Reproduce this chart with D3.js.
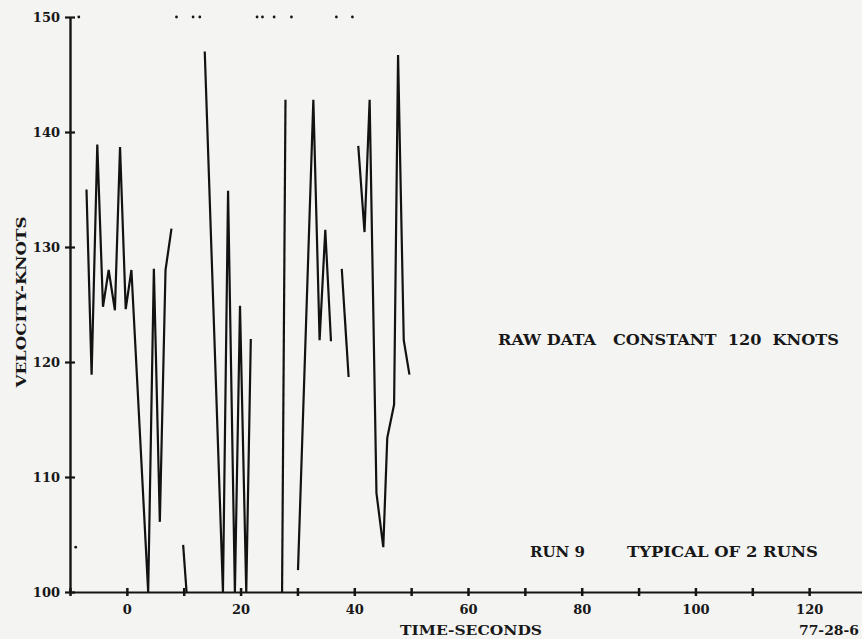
<!DOCTYPE html>
<html>
<head>
<meta charset="utf-8">
<script src="https://cdn.jsdelivr.net/npm/d3@7"></script>
<style>
  html, body { margin: 0; padding: 0; background: #f4f4f3; }
  svg { display: block; }
  text { font-family: "DejaVu Serif", "Liberation Serif", serif; font-weight: bold; fill: #181818; white-space: pre; }
</style>
</head>
<body>
<svg id="chart" width="862" height="639"></svg>
<script>
// Velocity trace, run 9 - pieces of the recorded line [time s, velocity knots]
const trace1 = [[-7.1, 135], [-6.2, 118.9], [-5.2, 138.9], [-4.2, 124.8], [-3.2, 128], [-2.1, 124.5],
                [-1.2, 138.7], [-0.2, 124.6], [0.8, 128], [3.75, 100], [4.75, 128.1], [5.8, 106.1],
                [6.8, 128], [7.85, 131.6]];
const trace2 = [[9.9, 104.1], [10.5, 100]];
const trace3 = [[13.7, 147], [16.9, 100], [17.8, 134.9], [19.0, 100], [19.9, 124.9], [21.0, 100], [21.8, 122]];
const trace4 = [[27.3, 100], [27.9, 142.8]];
const trace5 = [[30.1, 101.9], [32.8, 142.8], [33.9, 121.9], [34.9, 131.5], [35.9, 121.8]];
const trace6 = [[37.8, 128.1], [39.0, 118.7]];
const trace7 = [[40.7, 138.8], [41.8, 131.3], [42.7, 142.8], [43.9, 108.6], [45.1, 103.9], [45.8, 113.4],
                [47.0, 116.3], [47.7, 146.7], [48.7, 121.9], [49.7, 118.9]];

// off-scale readings marked as dots along the top
const offScaleTimes = [-8.45, 8.73, 11.65, 12.83, 22.9, 23.85, 25.9, 28.95, 36.85, 39.67];
const strayPoints = [[-9.0, 103.9]];

// axis ticks
const xTicks = [-10, 0, 10, 20, 30, 40, 50, 60, 70, 80, 90, 100, 110, 120, 130];
const xLabelled = [0, 20, 40, 60, 80, 100, 120];
const yTicks = [100, 110, 120, 130, 140, 150];

const svg = d3.select('#chart');

const x = d3.scaleLinear().domain([-10, 130]).range([70, 866]);
const y = d3.scaleLinear().domain([100, 150]).range([592, 17]);

// x axis
const xAxis = svg.append('g')
    .attr('transform', `translate(0,${y(100)})`)
    .call(d3.axisBottom(x)
        .tickValues(xTicks)
        .tickSize(4)
        .tickSizeOuter(0)
        .tickPadding(9)
        .tickFormat(d => xLabelled.includes(d) ? d : ''));
xAxis.select('.domain').attr('stroke', '#151515').attr('stroke-width', 2.2);
xAxis.selectAll('.tick line').attr('y1', -4).attr('y2', 4).attr('stroke', '#151515').attr('stroke-width', 2.5);
xAxis.selectAll('.tick text').style('font-size', '13px');

// y axis
const yAxis = svg.append('g')
    .attr('transform', `translate(${x(-10)},0)`)
    .call(d3.axisLeft(y)
        .tickValues(yTicks)
        .tickSize(5)
        .tickSizeOuter(0)
        .tickPadding(5));
yAxis.select('.domain').attr('stroke', '#151515').attr('stroke-width', 2.4);
yAxis.selectAll('.tick line').attr('x1', -5).attr('x2', 5).attr('stroke', '#151515').attr('stroke-width', 2.2);
yAxis.selectAll('.tick text').style('font-size', '13px');

// the trace
const line = d3.line().x(d => x(d[0])).y(d => y(d[1]));
const traces = [trace1, trace2, trace3, trace4, trace5, trace6, trace7];
svg.append('g')
    .selectAll('path')
    .data(traces)
    .enter()
    .append('path')
    .attr('d', line)
    .attr('fill', 'none')
    .attr('stroke', '#121212')
    .attr('stroke-width', 2.2)
    .attr('stroke-linejoin', 'miter')
    .attr('stroke-miterlimit', 3);

// dots
svg.append('g')
    .selectAll('circle')
    .data(offScaleTimes.map(t => [t, 150]).concat(strayPoints))
    .enter()
    .append('circle')
    .attr('cx', d => x(d[0]))
    .attr('cy', d => y(d[1]))
    .attr('r', 1.4)
    .attr('fill', '#151515');

// axis titles
svg.append('text')
    .attr('transform', 'translate(26,302) rotate(-90)')
    .attr('text-anchor', 'middle')
    .attr('textLength', 171)
    .attr('lengthAdjust', 'spacingAndGlyphs')
    .style('font-size', '13px')
    .text('VELOCITY-KNOTS');

svg.append('text')
    .attr('x', 400).attr('y', 635)
    .attr('textLength', 142)
    .attr('lengthAdjust', 'spacingAndGlyphs')
    .style('font-size', '13px')
    .text('TIME-SECONDS');

svg.append('text')
    .attr('x', 799).attr('y', 635)
    .attr('textLength', 60)
    .attr('lengthAdjust', 'spacingAndGlyphs')
    .style('font-size', '12px')
    .text('77-28-6');

// annotations
svg.append('text')
    .attr('x', 498).attr('y', 345)
    .attr('textLength', 341)
    .attr('lengthAdjust', 'spacingAndGlyphs')
    .style('font-size', '14px')
    .text('RAW DATA   CONSTANT  120  KNOTS');

svg.append('text')
    .attr('x', 530).attr('y', 557)
    .attr('textLength', 55)
    .attr('lengthAdjust', 'spacingAndGlyphs')
    .style('font-size', '14px')
    .text('RUN 9');

svg.append('text')
    .attr('x', 627).attr('y', 557)
    .attr('textLength', 191)
    .attr('lengthAdjust', 'spacingAndGlyphs')
    .style('font-size', '14px')
    .text('TYPICAL OF 2 RUNS');
</script>
</body>
</html>
